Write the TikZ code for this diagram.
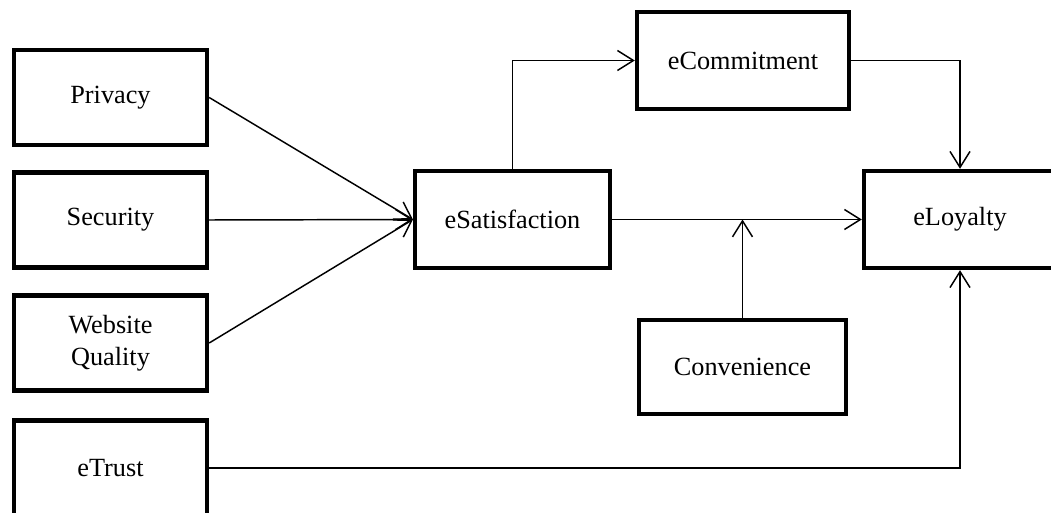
\documentclass[tikz,border=0pt]{standalone}
\usepackage{fontspec}
\setmainfont{Liberation Serif}
\usetikzlibrary{arrows.meta}

\begin{document}
\begin{tikzpicture}[
        x=0.75pt, y=-0.75pt,
        every node/.style={draw, rectangle, line width=3.3pt, align=center,
            font={\fontsize{19.7}{24}\selectfont}},
        left/.style={minimum width=144.75pt, minimum height=71.25pt},
        mid/.style={minimum width=146pt, minimum height=72.75pt},
        ar/.style={-{Straight Barb[length=12pt, width=15pt]}, line width=1.1pt},
        ln/.style={-, line width=1.1pt},
    ]

    \clip (0,0) rectangle (1051,513);

    \node[left](privacy) at (110.5,97.5) {Privacy};
    \node[left](security) at (110.5,220) {Security};
    \node[left](website) at (110.5,343) {Website\\Quality};
    \node[left](etrust) at (110.5,468) {eTrust};
    \node[mid](esat) at (512.5,219.5) {eSatisfaction};
    \node[mid, minimum width=159pt](ecommit) at (743,60.5) {eCommitment};
    \node[mid, minimum width=144pt](eloyal) at (960,219.5) {eLoyalty};
    \node[mid, minimum width=155pt, minimum height=70.5pt](conv) at (742.5,367) {Convenience};

    \draw[ar] (privacy.east) -- (esat.west);
    \draw[ar] (security.east) -- (esat.west);
    \draw[ar] (website.east) -- (esat.west);
    \draw[ar] (esat.north) |- (ecommit.west);
    \draw[ar] (ecommit.east) -| (eloyal.north);
    \draw[ar] (esat.east) -- (eloyal.west);
    \draw[ar] (conv.north) -- (conv.north |- esat.east);
    \draw[ar] (etrust.east) -| (eloyal.south);


    \end{tikzpicture}
\end{document}
